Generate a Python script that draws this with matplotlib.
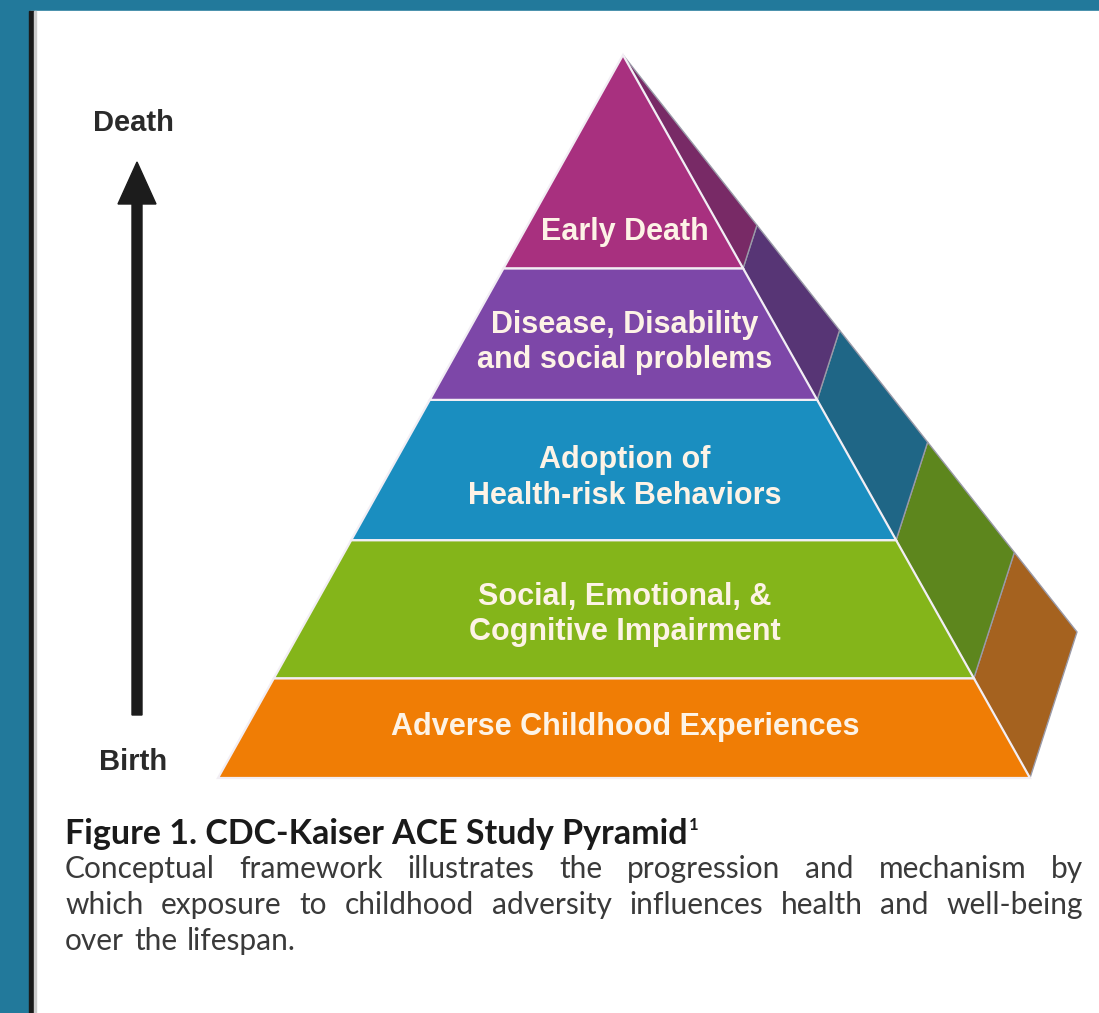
import matplotlib
matplotlib.use("Agg")
import matplotlib.pyplot as plt
from matplotlib.patches import Polygon, Rectangle, FancyArrow

# tiers, bottom to top
tier_labels = [
    "Adverse Childhood Experiences",
    "Social, Emotional, &\nCognitive Impairment",
    "Adoption of\nHealth-risk Behaviors",
    "Disease, Disability\nand social problems",
    "Early Death",
]
front_colors = ["#f07d05", "#84b51a", "#1a8ec0", "#7d47a8", "#a8307f"]
side_colors = ["#a5621f", "#5d861d", "#1f6686", "#573575", "#782a66"]
# tier boundaries as fraction of pyramid height, measured from apex (base=1)
levels = [1.0, 0.862, 0.671, 0.477, 0.295, 0.0]

axis_top = "Death"
axis_bottom = "Birth"
caption_title = "Figure 1. CDC-Kaiser ACE Study Pyramid"
caption_lines = [
    "Conceptual framework illustrates the progression and mechanism by",
    "which exposure to childhood adversity influences health and well-being",
    "over the lifespan.",
]

W, H = 1099, 1013
fig = plt.figure(figsize=(W / 100, H / 100), dpi=100)
ax = fig.add_axes([0, 0, 1, 1])
ax.set_xlim(0, W)
ax.set_ylim(H, 0)
ax.axis("off")

# frame: teal background, white page, black rule
fig.patch.set_facecolor("#22799b")
ax.add_patch(Rectangle((30, 11), W - 30, H - 11, color="white", zorder=0))
ax.add_patch(Rectangle((29, 11), 5, H - 11, color="#1a1a1a", zorder=1))
ax.add_patch(Rectangle((34, 11), 2, H - 11, color="#cccccc", zorder=1))

# pyramid geometry
apex = (623, 55)
base_l = (218, 778)
base_r = (1030, 778)
back = (1077, 632)


def on_edge(p, q, t):
    return (p[0] + (q[0] - p[0]) * t, p[1] + (q[1] - p[1]) * t)


for i in range(5):
    t0, t1 = levels[i], levels[i + 1]
    # front face tier
    pts = [on_edge(apex, base_l, t0), on_edge(apex, base_r, t0),
           on_edge(apex, base_r, t1), on_edge(apex, base_l, t1)]
    if t1 == 0:
        pts = pts[:3]
    ax.add_patch(Polygon(pts, closed=True, facecolor=front_colors[i],
                         edgecolor="#f2eef4", lw=1.6, zorder=3))
    # side face tier
    spts = [on_edge(apex, base_r, t0), on_edge(apex, back, t0),
            on_edge(apex, back, t1), on_edge(apex, base_r, t1)]
    ax.add_patch(Polygon(spts, closed=True, facecolor=side_colors[i],
                         edgecolor="#9a9aa8", lw=1.0, zorder=2))
    # label
    ym = apex[1] + (base_l[1] - apex[1]) * (t0 + t1) / 2 + 8
    if t1 == 0:
        ym = apex[1] + (base_l[1] - apex[1]) * 0.245
    if i == 0:
        ym -= 9
    if i == 1:
        ym -= 3
    ax.text(apex[0] + 2, ym, tier_labels[i], ha="center", va="center",
            color="#fdf3e6", fontsize=22, fontweight="bold",
            family="Liberation Sans", linespacing=1.22, zorder=4)

# life-course arrow
ax.add_patch(FancyArrow(137, 715, 0, -553, width=10, head_width=38,
                        head_length=42, length_includes_head=True,
                        color="#1c1c1c", zorder=3))
ax.text(133, 123, axis_top, ha="center", va="center", fontsize=21,
        fontweight="bold", family="Liberation Sans", color="#2a2a2a")
ax.text(133, 762, axis_bottom, ha="center", va="center", fontsize=21,
        fontweight="bold", family="Liberation Sans", color="#2a2a2a")

# caption
cap_font = "Lato"
t = ax.text(65, 834, caption_title, ha="left", va="center", fontsize=24.5,
            fontweight="bold", family=cap_font, color="#1a1a1a")
fig.canvas.draw()
r = fig.canvas.get_renderer()
bb = t.get_window_extent(r)
ax.text(65 + bb.width + 1, 825, "1", ha="left", va="center", fontsize=12,
        fontweight="bold", family=cap_font, color="#1a1a1a")

x0, x1 = 65, 1083
ys = [869, 905, 941]
for line, y in zip(caption_lines, ys):
    words = line.split()
    objs = [ax.text(0, y, w, ha="left", va="center", fontsize=21.5,
                    family=cap_font, color="#3a3a3a") for w in words]
    fig.canvas.draw()
    widths = [o.get_window_extent(r).width for o in objs]
    if line is caption_lines[-1]:
        gap = 10
    else:
        gap = max(4, (x1 - x0 - sum(widths)) / (len(words) - 1))
    x = x0
    for o, w in zip(objs, widths):
        o.set_x(x)
        x += w + gap

fig.savefig("out.png", dpi=100, facecolor=fig.get_facecolor())
